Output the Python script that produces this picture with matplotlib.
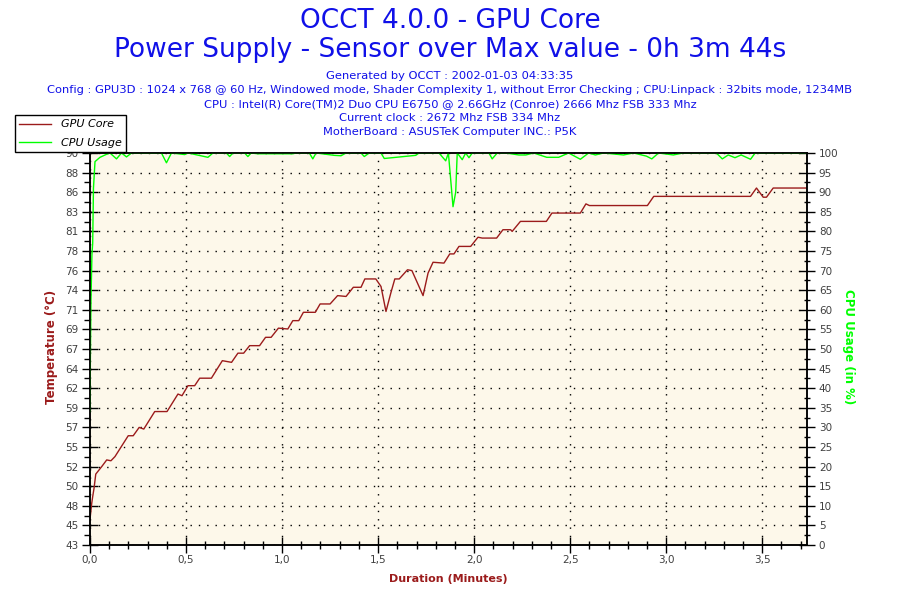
import numpy as np
import matplotlib
matplotlib.use("Agg")
import matplotlib.pyplot as plt
from matplotlib.ticker import FixedLocator, MultipleLocator
from matplotlib.lines import Line2D

plt.rcParams['font.family'] = ['DejaVu Sans']

# ---------------- data ----------------
temp_time = [0.000, 0.009, 0.014, 0.021, 0.030, 0.061, 0.087, 0.109, 0.130, 0.199,
             0.225, 0.256, 0.280, 0.337, 0.401, 0.458, 0.479, 0.510, 0.545, 0.571,
             0.632, 0.689, 0.737, 0.770, 0.800, 0.831, 0.883, 0.914, 0.943, 0.981,
             1.030, 1.056, 1.087, 1.111, 1.173, 1.198, 1.250, 1.289, 1.333, 1.371,
             1.411, 1.431, 1.488, 1.515, 1.541, 1.566, 1.587, 1.610, 1.653, 1.676,
             1.734, 1.760, 1.786, 1.843, 1.873, 1.895, 1.921, 1.982, 2.020, 2.042,
             2.117, 2.150, 2.190, 2.198, 2.241, 2.376, 2.405, 2.553, 2.582, 2.600,
             2.902, 2.935, 3.439, 3.470, 3.505, 3.522, 3.557, 3.733]
temp_vals = [46.1, 48.0, 48.8, 49.8, 51.5, 52.4, 53.2, 53.1, 53.6, 56.1,
             56.1, 57.1, 56.9, 59.0, 59.0, 61.1, 60.9, 62.1, 62.1, 63.0,
             63.0, 65.1, 64.9, 66.0, 66.0, 66.9, 66.9, 67.9, 67.9, 69.0,
             68.9, 69.9, 69.9, 70.9, 70.9, 71.9, 71.9, 72.9, 72.8, 73.9,
             73.9, 74.9, 74.9, 74.0, 71.0, 73.2, 74.9, 74.9, 76.0, 75.9,
             72.9, 75.6, 76.9, 76.8, 77.9, 77.9, 78.8, 78.8, 79.9, 79.8,
             79.8, 80.8, 80.8, 80.6, 81.8, 81.8, 82.8, 82.8, 83.9, 83.7,
             83.7, 84.8, 84.8, 85.8, 84.7, 84.7, 85.8, 85.8]

cpu_time = [0.000, 0.002, 0.005, 0.010, 0.014, 0.018, 0.026, 0.052, 0.083, 0.104,
            0.138, 0.164, 0.190, 0.216, 0.372, 0.398, 0.424, 0.493, 0.511, 0.614,
            0.640, 0.710, 0.727, 0.744, 0.805, 0.822, 0.839, 0.874, 1.056, 1.073,
            1.142, 1.160, 1.177, 1.272, 1.307, 1.333, 1.411, 1.428, 1.454, 1.515,
            1.532, 1.696, 1.713, 1.817, 1.852, 1.866, 1.873, 1.890, 1.904, 1.912,
            1.938, 1.956, 1.973, 1.990, 2.077, 2.094, 2.120, 2.165, 2.233, 2.269,
            2.310, 2.378, 2.440, 2.492, 2.553, 2.596, 2.631, 2.674, 2.778, 2.830,
            2.897, 2.925, 2.960, 3.037, 3.089, 3.261, 3.292, 3.323, 3.358, 3.390,
            3.439, 3.463, 3.733]
cpu_vals = [34.0, 48.0, 62.0, 74.0, 77.0, 91.0, 97.8, 98.9, 99.6, 100.0,
            98.5, 100.0, 99.0, 100.0, 100.0, 97.5, 100.0, 99.6, 100.0, 98.9,
            100.0, 100.0, 99.1, 100.0, 100.0, 99.1, 100.0, 99.8, 99.8, 100.0,
            100.0, 98.5, 100.0, 99.4, 99.3, 100.0, 100.0, 99.1, 100.0, 100.0,
            98.6, 99.4, 100.0, 100.0, 98.0, 100.0, 96.0, 86.3, 90.0, 100.0,
            98.3, 100.0, 98.8, 100.0, 100.0, 98.5, 100.0, 100.0, 99.5, 99.5,
            100.0, 98.9, 98.9, 100.0, 98.4, 100.0, 99.5, 100.0, 99.5, 100.0,
            99.2, 98.5, 100.0, 99.5, 100.0, 100.0, 98.5, 99.5, 98.8, 99.5,
            98.4, 100.0, 100.0]

temp_tick_labels = ['43', '45', '48', '50', '52', '55', '57', '59', '62', '64', '67',
                    '69', '71', '74', '76', '78', '81', '83', '86', '88', '90']
x_tick_labels = ['0,0', '0,5', '1,0', '1,5', '2,0', '2,5', '3,0', '3,5']
x_ticks = [0.0, 0.5, 1.0, 1.5, 2.0, 2.5, 3.0, 3.5]

title1 = "OCCT 4.0.0 - GPU Core"
title2 = "Power Supply - Sensor over Max value - 0h 3m 44s"
info_lines = [
    "Generated by OCCT : 2002-01-03 04:33:35",
    "Config : GPU3D : 1024 x 768 @ 60 Hz, Windowed mode, Shader Complexity 1, without Error Checking ; CPU:Linpack : 32bits mode, 1234MB",
    "CPU : Intel(R) Core(TM)2 Duo CPU E6750 @ 2.66GHz (Conroe) 2666 Mhz FSB 333 Mhz",
    "Current clock : 2672 Mhz FSB 334 Mhz",
    "MotherBoard : ASUSTeK Computer INC.: P5K",
]

# ---------------- style ----------------
BLUE = '#1010E8'
RED = '#9B1B1B'
GREEN = '#00FF00'
TICKC = '#404040'
BG = '#FDF8EA'

W, H = 900, 600
fig = plt.figure(figsize=(9, 6), dpi=100)
fig.patch.set_facecolor('white')

ax = fig.add_axes([90 / W, 1 - 545 / H, (807 - 90) / W, (545 - 153) / H])
ax.set_facecolor(BG)
ax.plot(temp_time, temp_vals, color=RED, lw=1.0, zorder=3)
ax.set_xlim(0, 3.733)
ax.set_ylim(43, 90)

yt = np.linspace(43, 90, 21)
ax.yaxis.set_major_locator(FixedLocator(yt))
ax.set_yticklabels(temp_tick_labels)
ax.yaxis.set_minor_locator(FixedLocator((yt[:-1] + yt[1:]) / 2))
ax.xaxis.set_major_locator(FixedLocator(x_ticks))
ax.set_xticklabels(x_tick_labels)
ax.xaxis.set_minor_locator(MultipleLocator(0.1))

ax.grid(True, which='major', color='black', linestyle=(0, (1, 5)), lw=1.0)
ax.set_axisbelow(True)

ax.tick_params(axis='both', which='major', direction='inout', length=11, width=1,
               labelsize=7.5, labelcolor=TICKC, color='black', pad=3)
ax.tick_params(axis='y', which='minor', direction='out', length=4, width=1, color='black')
ax.tick_params(axis='x', which='minor', direction='inout', length=6, width=1, color='black')
ax.tick_params(axis='x', which='major', pad=2)

for s in ['left', 'bottom', 'top', 'right']:
    ax.spines[s].set_linewidth(1.1)
    ax.spines[s].set_color('black')
    ax.spines[s].set_zorder(5)

ax2 = ax.twinx()
ax2.plot(cpu_time, cpu_vals, color=GREEN, lw=1.0, zorder=3)
ax2.set_ylim(0, 100)
ax2.yaxis.set_major_locator(MultipleLocator(5))
ax2.yaxis.set_minor_locator(MultipleLocator(2.5))
ax2.tick_params(axis='y', which='major', direction='inout', length=11, width=1,
                labelsize=7.5, labelcolor=TICKC, color='black', pad=3)
ax2.tick_params(axis='y', which='minor', direction='inout', length=5, width=1, color='black')
for s in ['left', 'bottom', 'top', 'right']:
    ax2.spines[s].set_linewidth(1.1)
    ax2.spines[s].set_zorder(5)

# axis labels
fig.text(448 / W, 1 - 579 / H, "Duration (Minutes)", color=RED, fontsize=8,
         fontweight='bold', ha='center', va='center')
fig.text(52 / W, 1 - 347 / H, "Temperature (°C)", color=RED, fontsize=8.5,
         fontweight='bold', ha='center', va='center', rotation=90)
fig.text(849 / W, 1 - 347 / H, "CPU Usage (in %)", color=GREEN, fontsize=8.5,
         fontweight='bold', ha='center', va='center', rotation=270)

# titles
fig.text(450 / W, 1 - 21 / H, title1, color=BLUE, fontsize=19, ha='center', va='center')
fig.text(450 / W, 1 - 50 / H, title2, color=BLUE, fontsize=19, ha='center', va='center')
ys = [76, 90, 104, 118, 132]
for line, y in zip(info_lines, ys):
    fig.text(450 / W, 1 - y / H, line, color=BLUE, fontsize=8.25, ha='center', va='center')

# legend
handles = [Line2D([], [], color=RED, lw=1.0), Line2D([], [], color=GREEN, lw=1.0)]
leg = fig.legend(handles, ["GPU Core", "CPU Usage"], loc='upper left',
                 bbox_to_anchor=(15 / W, 1 - 115 / H), borderaxespad=0,
                 prop={'size': 8, 'style': 'italic'}, fancybox=False,
                 edgecolor='black', framealpha=1, handlelength=2.8,
                 handletextpad=0.9, labelspacing=0.75, borderpad=0.4)
leg.get_frame().set_linewidth(1.0)
for t in leg.get_texts():
    t.set_color('black')

fig.savefig('out.png', dpi=100, facecolor='white')
